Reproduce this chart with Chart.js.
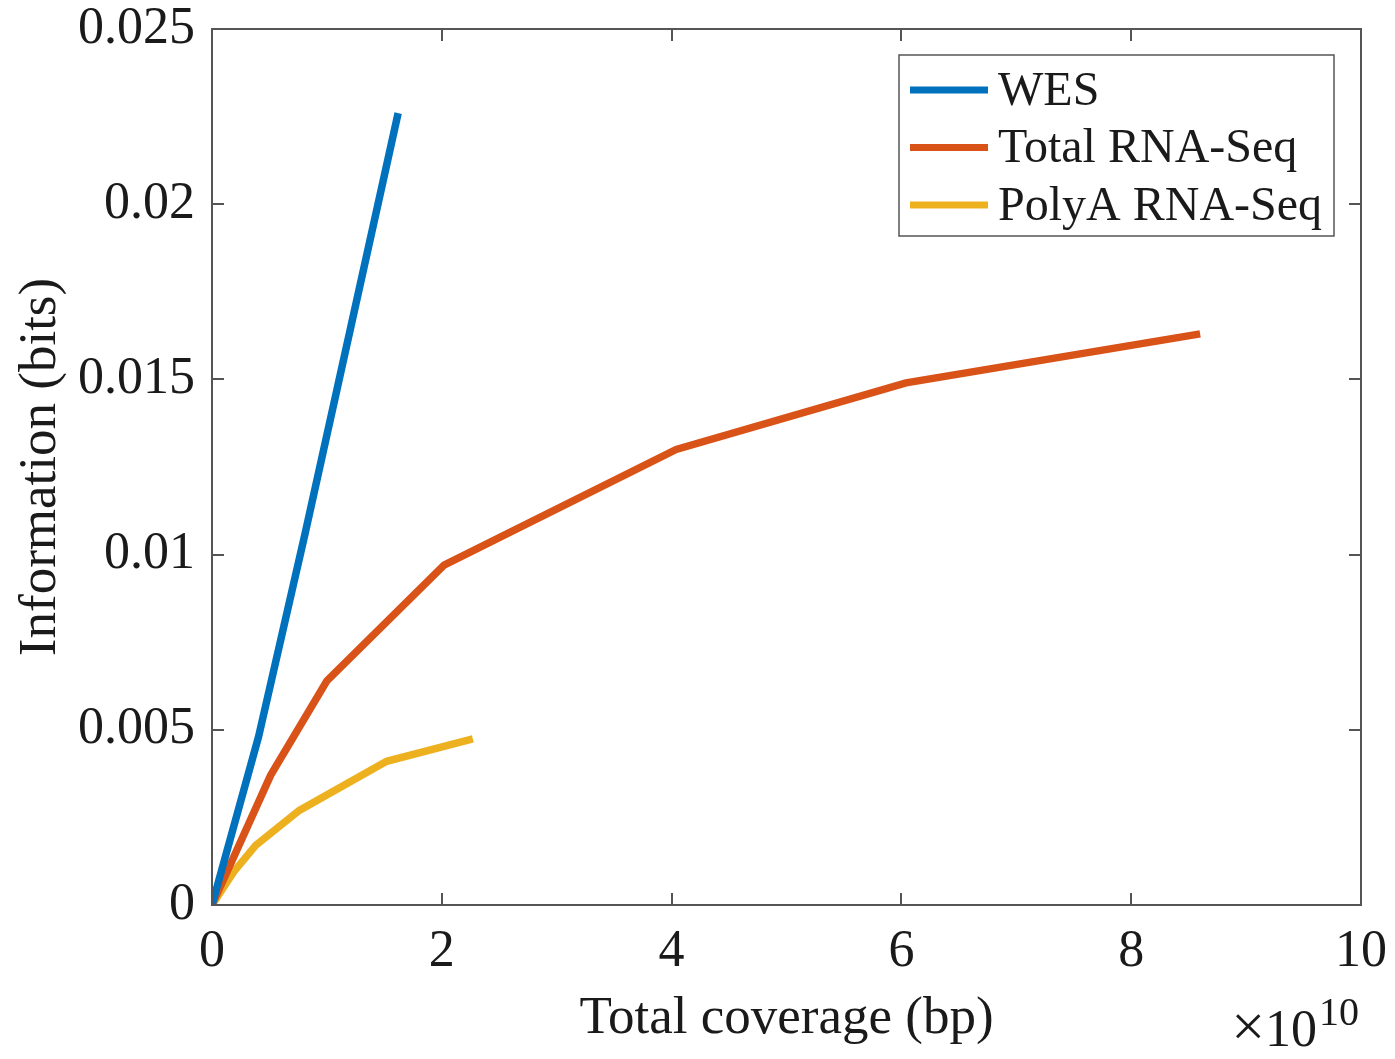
<!DOCTYPE html>
<html>
<head>
<meta charset="utf-8">
<script src="https://cdn.jsdelivr.net/npm/chart.js@4/dist/chart.umd.min.js"></script>
<style>
  html, body { margin: 0; padding: 0; background: #fff; }
  canvas { display: block; }
</style>
</head>
<body>
<canvas id="coverage-chart" width="1395" height="1059"></canvas>
<script>
// coverage in units of 10^10 bp, information in bits
const COVERAGE_EXP = 10;

const wesCoverage = [0, 0.405, 0.81, 1.215, 1.62];
const wesInfo = [0, 0.0048, 0.0106, 0.0166, 0.0226];

const totalCoverage = [0, 0.51, 1.0, 2.02, 4.04, 6.04, 8.6];
const totalInfo = [0, 0.0037, 0.0064, 0.0097, 0.0130, 0.0149, 0.0163];

const polyaCoverage = [0, 0.19, 0.38, 0.76, 1.52, 2.27];
const polyaInfo = [0, 0.00095, 0.0017, 0.0027, 0.0041, 0.00474];

const seriesNames = ["WES", "Total RNA-Seq", "PolyA RNA-Seq"];
const seriesColors = ["#0072BD", "#D95319", "#EDB120"];

const xTicks = [0, 2, 4, 6, 8, 10];
const yTicks = [0, 0.005, 0.01, 0.015, 0.02, 0.025];

const FONT = "'Liberation Serif', 'Times New Roman', serif";
const TEXT = "#1a1a1a";
const AXIS = "#555555";

function points(xs, ys) {
    return xs.map((x, i) => ({ x: x, y: ys[i] }));
}

function series(i, xs, ys) {
    return {
        label: seriesNames[i],
        data: points(xs, ys),
        borderColor: seriesColors[i],
        backgroundColor: seriesColors[i],
        borderWidth: 7.5,
        pointRadius: 0,
        tension: 0,
        fill: false,
    };
}

// fixed axis box sizes; the outer layout padding places the plot area
function fixBox(scale, w, h) {
    if (w !== null) scale.width = w;
    if (h !== null) scale.height = h;
    scale.paddingTop = 0;
    scale.paddingBottom = 0;
    scale.paddingLeft = 0;
    scale.paddingRight = 0;
}

// box, inward ticks, legend and the x exponent, drawn the MATLAB way
const matlabAxes = {
    id: "matlabAxes",
    afterDraw(chart) {
        const ctx = chart.ctx;
        const area = chart.chartArea;
        const xs = chart.scales.x;
        const ys = chart.scales.y;
        const tick = 12;

        ctx.save();
        ctx.strokeStyle = AXIS;
        ctx.lineWidth = 2;
        ctx.strokeRect(area.left, area.top, area.right - area.left, area.bottom - area.top);

        ctx.beginPath();
        xTicks.forEach(v => {
            const px = Math.round(xs.getPixelForValue(v));
            ctx.moveTo(px, area.bottom);
            ctx.lineTo(px, area.bottom - tick);
            ctx.moveTo(px, area.top);
            ctx.lineTo(px, area.top + tick);
        });
        yTicks.forEach(v => {
            const py = Math.round(ys.getPixelForValue(v));
            ctx.moveTo(area.left, py);
            ctx.lineTo(area.left + tick, py);
            ctx.moveTo(area.right, py);
            ctx.lineTo(area.right - tick, py);
        });
        ctx.stroke();

        // legend
        const boxRight = area.right - 27;
        const boxTop = area.top + 26;
        const boxW = 435;
        const boxH = 181;
        const boxLeft = boxRight - boxW;
        ctx.fillStyle = "#fff";
        ctx.fillRect(boxLeft, boxTop, boxW, boxH);
        ctx.strokeStyle = AXIS;
        ctx.lineWidth = 1.5;
        ctx.strokeRect(boxLeft, boxTop, boxW, boxH);

        ctx.font = "48px " + FONT;
        ctx.textBaseline = "middle";
        ctx.textAlign = "left";
        chart.data.datasets.forEach((ds, i) => {
            const cy = boxTop + 35 + i * 57.5;
            ctx.strokeStyle = ds.borderColor;
            ctx.lineWidth = 7;
            ctx.beginPath();
            ctx.moveTo(boxLeft + 11, cy);
            ctx.lineTo(boxLeft + 89, cy);
            ctx.stroke();
            ctx.fillStyle = TEXT;
            ctx.fillText(ds.label, boxLeft + 99, cy + 2);
        });

        // x10^10 multiplier under the right end of the x axis
        ctx.fillStyle = TEXT;
        ctx.textBaseline = "alphabetic";
        ctx.textAlign = "right";
        ctx.font = "40px " + FONT;
        const supRight = area.right - 2;
        ctx.fillText(String(COVERAGE_EXP), supRight, 1025);
        const supW = ctx.measureText(String(COVERAGE_EXP)).width;
        ctx.font = "52px " + FONT;
        ctx.fillText("10", supRight - supW - 2, 1046);
        const numW = ctx.measureText("10").width;
        ctx.font = "60px " + FONT;
        ctx.fillText("\u00d7", supRight - supW - numW - 2, 1046);
        ctx.restore();
    }
};

new Chart(document.getElementById("coverage-chart"), {
    type: "line",
    data: {
        datasets: [
            series(0, wesCoverage, wesInfo),
            series(1, totalCoverage, totalInfo),
            series(2, polyaCoverage, polyaInfo),
        ],
    },
    options: {
        responsive: false,
        animation: false,
        layout: { padding: { top: 29, right: 34, left: 0, bottom: 0 } },
        plugins: {
            legend: { display: false },
            tooltip: { enabled: false },
        },
        scales: {
            x: {
                type: "linear",
                min: 0,
                max: 10,
                afterFit(scale) { fixBox(scale, null, 154); },
                afterBuildTicks(scale) { scale.ticks = xTicks.map(v => ({ value: v })); },
                grid: { display: false, drawTicks: false },
                border: { display: false },
                ticks: {
                    color: TEXT,
                    padding: 21,
                    font: { family: FONT, size: 52, lineHeight: 1 },
                    callback: v => String(v),
                },
                title: {
                    display: true,
                    text: "Total coverage (bp)",
                    color: TEXT,
                    font: { family: FONT, size: 53, lineHeight: 1 },
                    padding: { top: 0, bottom: 13 },
                },
            },
            y: {
                type: "linear",
                min: 0,
                max: 0.025,
                afterFit(scale) { fixBox(scale, 212, null); },
                afterBuildTicks(scale) { scale.ticks = yTicks.map(v => ({ value: v })); },
                grid: { display: false, drawTicks: false },
                border: { display: false },
                ticks: {
                    color: TEXT,
                    padding: 17,
                    font: { family: FONT, size: 52, lineHeight: 1 },
                    callback: v => String(Number(v.toFixed(3))),
                },
                title: {
                    display: true,
                    text: "Information (bits)",
                    color: TEXT,
                    font: { family: FONT, size: 53, lineHeight: 1 },
                    padding: { top: 15, bottom: 0 },
                },
            },
        },
    },
    plugins: [matlabAxes],
});
</script>
</body>
</html>
